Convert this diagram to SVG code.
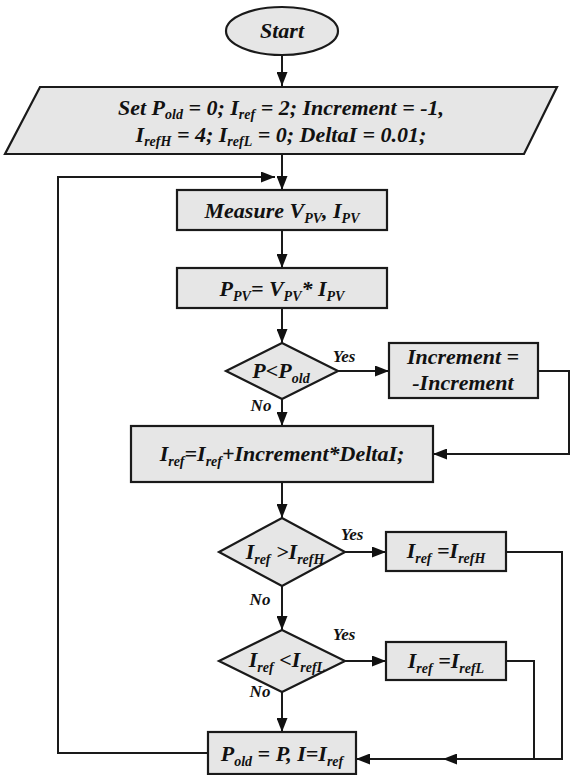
<svg xmlns="http://www.w3.org/2000/svg" width="571" height="775" viewBox="0 0 571 775">
<defs>
<marker id="arr" markerUnits="userSpaceOnUse" markerWidth="14" markerHeight="11" refX="14" refY="5.5" orient="auto">
<path d="M0,0 L14,5.5 L0,11 z" fill="#111"/>
</marker>
<style>
.shape{fill:#e6e6e6;stroke:#1a1a1a;stroke-width:2.2}
.conn path{fill:none;stroke:#1a1a1a;stroke-width:2}
.t{font-family:'Liberation Serif','Times New Roman',serif;font-weight:bold;font-style:italic;font-size:22px;text-anchor:middle;fill:#111}
.s{font-size:14px}
.lbl{font-family:'Liberation Serif','Times New Roman',serif;font-weight:bold;font-style:italic;font-size:17px;text-anchor:middle;fill:#111}
</style>
</defs>
<rect width="571" height="775" fill="#fff"/>
<g class="conn" id="connectors">
<path d="M282,55 V86" marker-end="url(#arr)"/>
<path d="M282,154 V190" marker-end="url(#arr)"/>
<path d="M282,230 V268" marker-end="url(#arr)"/>
<path d="M282,308 V343" marker-end="url(#arr)"/>
<path d="M338,371 H389" marker-end="url(#arr)"/>
<path d="M538,371 H569 V454 H433" marker-end="url(#arr)"/>
<path d="M282,399 V426" marker-end="url(#arr)"/>
<path d="M282,482 V518" marker-end="url(#arr)"/>
<path d="M345,552 H386" marker-end="url(#arr)"/>
<path d="M506,552 H562 V759 H443" marker-end="url(#arr)"/>
<path d="M443,759 H356" marker-end="url(#arr)"/>
<path d="M282,586 V630" marker-end="url(#arr)"/>
<path d="M345,661 H386" marker-end="url(#arr)"/>
<path d="M506,661 H534 V759"/>
<path d="M282,692 V732" marker-end="url(#arr)"/>
<path d="M208,753 H58 V177 H275" marker-end="url(#arr)"/>
<text class="lbl" x="344" y="362">Yes</text>
<text class="lbl" x="261" y="411">No</text>
<text class="lbl" x="352" y="540">Yes</text>
<text class="lbl" x="260" y="605">No</text>
<text class="lbl" x="344" y="640">Yes</text>
<text class="lbl" x="260" y="697">No</text>
</g>
<g id="start">
<ellipse class="shape" cx="282" cy="31" rx="56" ry="24"/>
<text class="t" x="282" y="38">Start</text>
</g>
<g id="init">
<polygon class="shape" points="40,87 557,87 524,154 5,154"/>
<text class="t" x="281" y="115">Set P<tspan class="s" dy="4">old</tspan><tspan dy="-4"> = 0; I</tspan><tspan class="s" dy="4">ref</tspan><tspan dy="-4"> = 2; Increment = -1,</tspan></text>
<text class="t" x="281" y="142">I<tspan class="s" dy="4">refH</tspan><tspan dy="-4"> = 4; I</tspan><tspan class="s" dy="4">refL</tspan><tspan dy="-4"> = 0; DeltaI = 0.01;</tspan></text>
</g>
<g id="measure">
<rect class="shape" x="177" y="190" width="210" height="40"/>
<text class="t" x="282" y="218">Measure V<tspan class="s" dy="5">PV</tspan><tspan dy="-5">, I</tspan><tspan class="s" dy="5">PV</tspan></text>
</g>
<g id="power">
<rect class="shape" x="177" y="268" width="210" height="40"/>
<text class="t" x="282" y="296">P<tspan class="s" dy="5">PV</tspan><tspan dy="-5">= V</tspan><tspan class="s" dy="5">PV</tspan><tspan dy="-5">* I</tspan><tspan class="s" dy="5">PV</tspan></text>
</g>
<g id="dec1">
<polygon class="shape" points="282,343 338,371 282,399 226,371"/>
<text class="t" x="281" y="378">P&lt;P<tspan class="s" dy="5">old</tspan></text>
</g>
<g id="negate">
<rect class="shape" x="389" y="343" width="149" height="55"/>
<text class="t" x="463" y="364">Increment =</text>
<text class="t" x="463" y="390">-Increment</text>
</g>
<g id="update">
<rect class="shape" x="131" y="426" width="302" height="56"/>
<text class="t" x="282" y="461">I<tspan class="s" dy="5">ref</tspan><tspan dy="-5">=I</tspan><tspan class="s" dy="5">ref</tspan><tspan dy="-5">+Increment*DeltaI;</tspan></text>
</g>
<g id="dec2">
<polygon class="shape" points="282,518 345,552 282,586 219,552"/>
<text class="t" x="285" y="559">I<tspan class="s" dy="5">ref</tspan><tspan dy="-5"> &gt;I</tspan><tspan class="s" dy="5">refH</tspan></text>
</g>
<g id="clampH">
<rect class="shape" x="386" y="532" width="120" height="39"/>
<text class="t" x="446" y="558">I<tspan class="s" dy="5">ref</tspan><tspan dy="-5"> =I</tspan><tspan class="s" dy="5">refH</tspan></text>
</g>
<g id="dec3">
<polygon class="shape" points="282,630 345,661 282,692 219,661"/>
<text class="t" x="287" y="667">I<tspan class="s" dy="5">ref</tspan><tspan dy="-5"> &lt;I</tspan><tspan class="s" dy="5">refL</tspan></text>
</g>
<g id="clampL">
<rect class="shape" x="386" y="642" width="120" height="38"/>
<text class="t" x="446" y="668">I<tspan class="s" dy="5">ref</tspan><tspan dy="-5"> =I</tspan><tspan class="s" dy="5">refL</tspan></text>
</g>
<g id="store">
<rect class="shape" x="208" y="732" width="148" height="42"/>
<text class="t" x="282" y="761">P<tspan class="s" dy="5">old</tspan><tspan dy="-5"> = P, I=I</tspan><tspan class="s" dy="5">ref</tspan></text>
</g>
</svg>
